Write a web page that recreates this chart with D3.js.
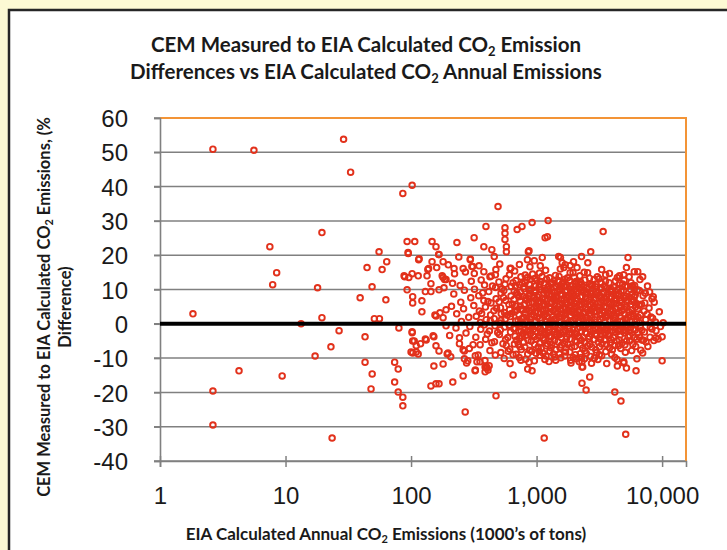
<!DOCTYPE html>
<html lang="en">
<head>
    <meta charset="UTF-8">
    <title>CEM vs EIA CO2 Emission Differences</title>
    <script src="https://d3js.org/d3.v7.min.js"></script>
    <style>
        body {
            margin: 0;
            background-color: #fcf9d4;
        }
        svg {
            display: block;
            font-family: Lato, "Open Sans", sans-serif;
        }
        .tick-label {
            font-size: 24px;
            fill: #1a1a1a;
        }
        .axis-title {
            font-size: 16.5px;
            font-weight: bold;
            fill: #1a1a1a;
        }
        .chart-title {
            font-size: 20.5px;
            font-weight: bold;
            fill: #1a1a1a;
        }
    </style>
</head>
<body>
    <svg id="chart" width="727" height="550"></svg>

    <script>
        // y axis (% difference) ticks and x axis (1000's of tons) ticks
        const yTicks = [-40, -30, -20, -10, 0, 10, 20, 30, 40, 50, 60];
        const xTicks = [1, 10, 100, 1000, 10000];

        // isolated points: [EIA annual CO2 (1000's of tons), % difference]
        const sparsePoints = [
            [1.83, 2.9], [2.64, 50.9], [5.6, 50.6], [29, 53.8], [33, 44.2], [102, 40.4], [86, 38],
            [19.5, 26.6], [7.5, 22.5], [8.5, 14.9], [7.9, 11.4], [18, 10.5], [19.5, 1.8], [13.3, 0],
            [26.7, -2], [23, -6.7], [93, 24], [107, 24], [55.6, 21], [64, 18.1], [44.6, 16.4],
            [58.8, 15.8], [48.9, 10.8], [39.3, 7.6], [63, 7], [51, 1.5], [56, 1.5], [43, -3.8], [80, -1.2],
            [94.7, 20.8], [115, 18.7], [147, 24], [158, 22.5], [167, 20.2], [147, 18.1], [180, 18.1],
            [136, 15.8], [160, 16.4], [88, 14], [96, 13.5], [102, 14.6], [114, 14], [134, 14], [177, 14],
            [190, 12.9], [144, 11.7], [93, 9.9], [130, 9.4], [144, 9.4], [167, 9.9], [183, 10.5],
            [103, 7.9], [103, 6.1], [122, 6.7], [122, 3.5], [158, 2.3], [170, 3.2], [180, 1.8], [190, 4.1],
            [190, -0.6], [102, -2.3], [103, -5], [110, -6.4], [130, -4.4], [150, -3.5], [152, -3.8],
            [2.64, -19.6], [2.64, -29.5], [4.26, -13.7], [9.4, -15.2], [17.2, -9.4], [23.5, -33.3],
            [43, -11.2], [49, -14.6], [48, -19], [74, -11.2], [79, -13.2], [74, -17], [79, -19.9],
            [86, -21.4], [86, -23.9], [100, -8.2], [103, -8.5], [110, -8.2], [114, -8.8], [158, -6.4],
            [167, -7.9], [152, -12.3], [180, -11.7], [144, -18.1], [158, -17.5], [167, -17.5], [194, -8.8],
            [1150, -33.3], [5130, -32.2], [493, 34.2], [1236, 30.1], [921, 29.5], [765, 28.4], [700, 27.5],
            [560, 28], [560, 26.4], [395, 28.4], [1220, 25.4], [1170, 25.1], [3390, 26.9], [318, 25.1],
            [560, 24.6], [232, 23.7], [380, 22.5], [575, 22.5], [575, 21], [440, 21.6], [460, 19.6],
            [870, 21.3], [2700, 21], [95, 20.5], [166, 20.2], [116, 19], [296, 18.7], [305, 16.7],
            [310, 16.7], [5350, 19.3], [1110, 19.3], [1550, 19.3], [1970, 18.1], [2280, 19.6], [2560, 17.8],
            [845, 18.7], [860, 21], [220, 16.1], [260, 16.1], [730, 17.3], [615, 16.1], [138, 16.1],
            [5200, 16.4], [6000, 15.2], [6400, 15.2], [7000, 13.7], [89, 13.7], [180, 13.5], [185, 12.9],
            [380, 15.2], [470, 14.3], [425, 13.7], [8300, 7.3], [5800, 11.1], [6000, 7.9], [155, 2.6],
            [102, -2.6], [106, -5], [260, -7.6], [266, -10.2], [243, -4.1], [215, -17], [260, -15.2],
            [325, -13.5], [335, -11.1], [403, -12.9], [475, -21], [650, -14.9], [270, -25.7],
            [2300, -17.3], [2480, -19.3], [2650, -15.5], [4200, -19.9], [4700, -22.5], [6200, -13.7],
            [10000, -10.8], [10200, 0.3], [8900, -4.1], [9300, -4.4], [10000, -3.8], [8300, -1.5],
            [2330, -12.6], [4400, -12.3], [4950, -11.4], [119, -5.8], [132, -4.7], [1070, 16.9],
            [1500, 19.6], [1600, 17.8], [1650, 16.4], [197, -8.5], [266, -7.9], [283, -10.8],
            [312, -6.1], [342, -9.1], [354, -11.1], [389, -12.6], [410, -13.5], [324, -13.7],
            [389, -14], [400, -12.6], [850, -13.2], [920, -13.7], [6900, -4.7], [7000, -8.5],
            [6300, -10.2], [4950, -11.1], [5200, -12.9], [2300, -11.1], [2300, -12.6], [3300, 15.8],
            [3550, 14.3], [4400, 13.5], [4950, 14.3], [1950, 14.9], [2100, 16.4], [2550, 14.9],
            [3050, 13.7], [1690, 17.2], [1850, 17.0]
        ];

        // the dense cloud between ~200 and ~10,000 thousand tons
        const clusterPoints = [
            [198, 17.2], [210, 5.1], [203, -3.4], [214, 11.8], [207, -9.6],
            [219, 8.7], [228, -1.2], [222, 14.6], [231, 2.9],
            [240, 19.5], [249, 6.3], [243, -5.8], [252, 0.7], [246, 11.2],
            [262, 4.4], [274, -2.7], [266, 9.8], [271, 15.1], [277, -11.4],
            [288, 1.9], [299, 7.6], [291, -7.2], [302, 12.4], [294, -0.8], [297, 18.9],
            [316, 5.3], [328, -3.9], [320, 10.1], [331, 2.2], [325, -9.3], [319, 14.7],
            [346, 8.2], [359, -1.6], [350, 3.7], [362, 12.8], [355, -6.1], [348, 16.9], [357, 0.4],
            [380, 6.8], [393, -4.5], [385, 11.3], [397, 1.2], [388, -10.7], [391, 4.9], [383, -0.3],
            [416, 9.4], [430, 2.6], [421, -2.1], [435, 13.9], [425, -7.8], [433, 6.1], [419, -12.2], [428, 0.9],
            [457, 3.8], [471, 10.6], [462, -5.2], [476, 7.3], [466, -0.6], [474, 15.8], [460, 1.5], [469, -9.1],
            [501, 12.2], [516, 4.7], [506, -3.1], [521, 8.9], [510, 0.2], [519, -8.4], [504, 6.4], [514, -1.8], [509, 17.4], [523, 2.9],
            [549, 9.7], [566, -4.6], [555, 3.3], [571, 13.1], [558, -0.9], [568, 6.8], [552, -10.1], [563, 1.4], [574, -6.3], [560, 11.5],
            [602, 5.6], [620, -2.4], [608, 14.3], [625, 8.1], [612, -7.4], [618, 2.1], [605, -0.4], [628, 10.9], [615, -11.6], [610, 4.2], [623, 16.2],
            [660, 7.1], [680, 0.8], [666, -5.9], [685, 12.6], [671, 3.5], [677, -1.3], [663, 9.6], [688, -8.9], [669, 15.4], [682, 5.2], [674, -3.6],
            [723, 2.7], [745, 9.3], [730, -4.2], [750, 13.7], [736, 0.1], [742, 6.6], [727, -9.8], [753, -2.2], [733, 11.4], [748, 4.3], [739, -6.7], [725, 7.9],
            [793, 10.2], [816, 3.1], [800, -1.7], [822, 7.5], [806, -6.8], [811, 14.2], [797, 1.9], [826, -3.3], [803, 5.8], [819, -10.3], [813, 12.1], [795, -0.2],
            [868, 6.2], [894, -2.9], [875, 11.6], [900, 1.3], [881, -7.7], [889, 8.8], [872, 3.9], [905, -5.1], [885, 16.6], [897, 4.6], [878, -0.9], [892, 12.9], [870, -11.2],
            [952, 2.4], [980, 9.1], [960, -3.8], [986, 5.3], [967, 13.2], [975, -0.5], [955, 7.7], [991, -8.6], [970, 0.9], [983, 11.0], [963, -6.0], [978, 3.4], [958, 18.4],
            [1043, 8.4], [1073, -1.4], [1050, 4.8], [1080, 12.3], [1058, -5.5], [1066, 1.7], [1047, 10.7], [1086, 6.5], [1062, -9.2], [1076, -2.6], [1054, 14.8], [1070, 3.0], [1090, -7.1],
            [1143, 5.9], [1176, -3.0], [1152, 11.9], [1184, 0.6], [1160, 7.1], [1190, -6.4], [1148, 2.5], [1171, 9.8], [1157, -0.7], [1180, 15.6], [1165, -10.4], [1195, 4.1], [1145, -4.7],
            [1252, 3.2], [1290, 10.4], [1262, -1.9], [1298, 6.0], [1270, 13.4], [1282, -5.3], [1258, 8.6], [1305, 1.0], [1276, -8.0], [1288, 4.4], [1265, -3.5], [1295, 11.8], [1255, -11.0], [1279, 0.3],
            [1372, 7.4], [1410, -0.8], [1382, 12.7], [1418, 3.6], [1390, -4.9], [1401, 9.2], [1377, 1.3], [1426, -7.5], [1395, 5.4], [1413, 14.1], [1386, -2.3], [1421, 8.0], [1398, -9.7],
            [1505, 2.0], [1545, 8.7], [1515, -3.2], [1555, 11.2], [1525, 5.7], [1535, -6.9], [1510, 13.8], [1562, 0.5], [1530, -1.1], [1550, 4.0], [1520, -8.8], [1540, 10.0], [1568, -4.0], [1545, 16.0],
            [1650, 6.9], [1695, -2.0], [1662, 10.9], [1705, 2.8], [1672, -5.8], [1685, 13.0], [1655, 0.0], [1715, 7.7], [1678, -9.4], [1700, 4.5], [1666, -0.6], [1690, 9.5], [1710, -7.0],
            [1808, 3.9], [1855, 10.1], [1820, -1.5], [1865, 6.2], [1832, 12.6], [1845, -4.4], [1815, 8.3], [1875, 0.8], [1838, -8.2], [1860, 2.3], [1826, 5.0], [1870, -10.6], [1850, 14.9], [1812, -3.0],
            [1985, 8.0], [2035, -0.3], [1998, 4.2], [2045, 11.7], [2010, -6.6], [2022, 1.6], [1990, 13.6], [2055, 6.7], [2015, -2.8], [2040, -9.0], [2004, 9.9], [2050, 3.0], [2028, -4.9],
            [2175, 1.1], [2230, 7.8], [2190, -4.1], [2240, 12.2], [2205, 3.4], [2215, -1.0], [2182, 10.3], [2250, -6.2], [2198, 5.6], [2225, -8.7], [2260, 2.4], [2210, 14.0], [2186, -11.1],
            [2385, 6.4], [2445, -2.5], [2400, 9.7], [2455, 1.8], [2415, -5.4], [2430, 12.8], [2392, 3.1], [2470, -0.4], [2422, -7.9], [2460, 7.2], [2408, -10.2], [2440, 4.8], [2395, 15.0],
            [2615, 2.9], [2680, 9.0], [2630, -3.7], [2695, 5.5], [2645, 11.6], [2660, -6.0], [2620, 0.4], [2710, 7.9], [2655, -1.6], [2690, -9.5], [2638, 13.3], [2700, 3.8],
            [2865, 7.0], [2935, -1.2], [2880, 3.6], [2950, 10.8], [2895, -4.6], [2915, 1.2], [2872, 12.9], [2960, -7.6], [2905, 5.0], [2940, -2.9], [2888, -10.0], [2925, 8.6],
            [3140, 4.0], [3215, 10.5], [3160, -2.2], [3230, 6.3], [3175, -6.7], [3195, 1.4], [3150, 13.1], [3250, -0.6], [3185, 8.2], [3240, -4.4], [3165, -9.0], [3205, 2.7],
            [3445, 9.2], [3525, -1.8], [3460, 5.1], [3545, 12.4], [3480, -4.8], [3500, 0.6], [3455, 7.6], [3560, -8.1], [3490, 3.3], [3535, -2.6], [3470, 11.0],
            [3775, 3.0], [3865, 9.6], [3795, -3.4], [3885, 5.9], [3815, -7.0], [3840, 1.0], [3780, 12.0], [3900, -0.9], [3825, 7.4], [3870, -5.6], [3805, 14.7],
            [4140, 6.0], [4235, -2.3], [4160, 10.6], [4255, 2.1], [4185, -6.3], [4210, 4.6], [4150, -0.1], [4270, 8.5], [4200, -9.8], [4245, 12.5], [4170, 1.7],
            [4535, 8.8], [4640, 0.7], [4560, -4.7], [4665, 5.0], [4590, 11.8], [4615, -1.4], [4545, 3.2], [4680, -7.2], [4600, 6.6], [4650, -3.2], [4575, 14.0],
            [4970, 4.3], [5085, 10.9], [5000, -2.6], [5110, 1.5], [5030, 7.5], [5055, -6.1], [4985, 12.7], [5130, -0.3], [5040, 2.8], [5095, -8.3],
            [5450, 7.8], [5575, -1.1], [5480, 3.4], [5600, 10.0], [5515, -5.0], [5540, 0.9], [5465, 13.7], [5620, 5.6], [5530, -3.5],
            [5975, 2.2], [6110, 8.4], [6010, -4.0], [6140, 4.9], [6040, 11.2], [6080, -1.9], [5990, 6.8], [6160, -6.6],
            [6550, 5.4], [6700, -0.7], [6590, 9.7], [6730, 2.6], [6620, -3.9], [6660, 12.9], [6760, -7.7],
            [7180, 3.7], [7350, 8.9], [7230, -2.4], [7400, 1.2], [7280, 6.1], [7450, -5.3],
            [7870, 4.6], [8050, -1.0], [7950, 9.3], [8150, 2.0], [8000, -3.9],
            [8650, 6.3], [8850, 0.5], [8950, -2.0], [9500, 3.5], [9700, -0.8]
        ];

        // extra points filling the solid core of the cloud
        const corePoints = [
            [700, 4.0], [760, 1.5], [830, 6.9], [910, 2.0], [1000, 5.0], [1110, 7.4], [1210, 2.2], [1330, 6.2],
            [1460, 3.0], [1600, 6.0], [1760, 1.2], [1920, 6.8], [2100, 2.0], [2300, 5.7], [2520, 0.9], [2760, 4.4],
            [3030, 2.0], [3330, 6.9], [3650, 2.5], [4000, 5.5], [4400, 0.0], [4800, 3.9], [5250, 1.1], [5750, 4.0], [6300, 0.8],
            [720, -2.0], [790, -5.4], [860, -0.6], [940, -3.4], [1020, -0.9], [1120, -4.2], [1230, -2.7], [1350, -0.2],
            [1480, -5.2], [1620, -2.4], [1780, -6.0], [1950, -1.7], [2140, -3.6], [2350, -0.6], [2580, -4.3], [2830, -2.0],
            [3100, -5.3], [3400, -1.0], [3720, -2.9], [4100, -4.0], [4500, -6.4], [4900, -1.8], [5350, -3.8], [5850, -6.0], [6400, -2.6],
            [680, 11.0], [780, 8.0], [880, 9.6], [990, 7.0], [1090, 9.9], [1200, 13.0], [1320, 8.2], [1440, 10.8],
            [1580, 7.0], [1730, 11.4], [1890, 9.0], [2060, 12.3], [2260, 9.8], [2480, 8.8], [2720, 11.3], [2980, 9.4],
            [3270, 12.0], [3580, 7.9], [3930, 10.1], [4300, 7.1], [4720, 9.5], [5180, 8.0], [5650, 12.0],
            [650, -9.0], [750, -10.6], [850, -8.8], [960, -10.8], [1050, -8.0], [1190, -9.4], [1300, -7.0], [1420, -10.6],
            [1560, -9.9], [1700, -8.2], [1880, -11.4], [2070, -10.2], [2270, -9.8], [2490, -8.6], [2740, -11.5], [3000, -8.4],
            [3300, -9.3], [3620, -11.6], [3960, -8.9], [4380, -10.4],
            [365, 3.0], [372, 9.0], [405, -3.0], [410, 6.5], [440, -5.5], [445, 11.0], [480, 4.5], [490, -2.5],
            [530, 10.2], [540, -5.8], [585, 2.5], [595, -8.0], [640, 5.8], [650, 12.0], [690, -4.8], [705, 8.5],
            [712, 1.0], [755, -7.5], [770, 11.8], [775, 4.2], [785, -2.8], [840, 1.0], [845, 13.5], [855, -4.8],
            [865, 8.1], [915, -8.0], [925, 6.2], [930, 14.5], [945, -1.6], [995, -4.6], [1005, 12.6], [1012, 1.9],
            [1030, -6.8], [1035, 6.0], [1100, -2.0], [1105, 13.8], [1125, 3.8], [1130, -8.6], [1215, 8.9], [1220, -5.8],
            [1240, 0.0], [1245, 11.0], [1310, -3.8], [1340, 12.0], [1360, 3.9], [1365, -8.8], [1435, 1.6], [1450, -3.0],
            [1470, 9.4], [1490, 12.6], [1585, -6.2], [1595, 2.8], [1610, 11.9], [1630, -0.3], [1720, 4.8], [1740, -3.8],
            [1770, 13.4], [1790, 8.2], [1900, -6.8], [1910, 3.4], [1935, 11.2], [1960, -9.8], [2080, 5.0], [2090, -5.2],
            [2110, 9.6], [2120, -1.4], [2280, -2.2], [2290, 11.5], [2320, 1.5], [2330, -7.1], [2500, -2.8], [2510, 10.5],
            [2540, 4.1], [2560, -6.4], [2740, 0.6], [2750, -6.8], [2780, 11.0], [2790, 6.2], [3010, -3.4], [3050, 9.0],
            [3070, 4.9], [3080, -10.4], [3280, -1.8], [3290, 7.6], [3320, -5.9], [3350, 3.9], [3590, 2.0], [3610, -6.0],
            [3630, 10.4], [3680, -0.4], [3950, -2.2], [3980, 7.8], [4020, -7.6], [4050, 3.9], [4330, 4.3], [4350, -5.0],
            [4420, 10.0], [4460, -2.0], [4760, 6.1], [4780, -5.6], [4840, 11.6], [4880, 0.8], [5200, -5.0], [5230, 5.0],
            [5290, 11.0], [5300, -1.2], [5700, 2.1], [5720, -7.8], [5780, 8.7], [5900, -1.5], [6250, 5.9], [6280, -4.5],
            [6350, 9.9], [6450, 1.9], [6850, 5.7], [6900, -1.9], [7050, 8.2], [7100, -4.8], [7600, 2.8], [7700, -6.6],
            [7650, 11.0], [8400, 1.6], [8500, 7.9], [8600, -4.9],
            [520, 1.0], [545, 7.7], [590, -4.0], [630, 3.0], [660, -1.5], [695, 9.0], [715, -6.0], [740, 5.2],
            [765, -3.6], [790, 10.8], [810, 0.5], [835, 4.0], [850, -2.0], [875, 7.2], [895, 10.0], [920, -1.0],
            [950, 4.5], [965, 9.8], [985, -2.2], [1010, 7.9], [1025, 3.3], [1055, 11.5], [1070, -3.8], [1095, 1.0],
            [1115, 5.2], [1140, 9.0], [1155, -2.4], [1185, 3.0], [1205, 6.6], [1225, 10.1], [1250, -0.9], [1270, 4.9],
            [1300, 8.4], [1315, -6.0], [1345, 2.0], [1370, 10.5], [1390, 6.8], [1405, -3.0], [1430, 4.4], [1455, 7.6],
            [1475, -1.8], [1500, 5.0], [1520, 9.6], [1555, 2.0], [1575, -2.8], [1600, 8.5], [1625, 4.4], [1645, 12.2],
            [1675, 1.6], [1700, 6.0], [1725, -4.4], [1750, 9.7], [1775, 3.6], [1800, -0.6], [1830, 7.0], [1860, 11.0],
            [1885, 4.0], [1915, -2.6], [1945, 8.8], [1970, 1.0], [2000, 6.1], [2030, 10.8], [2065, -3.0], [2095, 7.4],
            [2130, 3.8], [2160, 11.8], [2195, 0.4], [2235, 5.0], [2270, -4.8], [2310, 8.0], [2345, 3.0], [2380, 10.6],
            [2420, -1.2], [2460, 5.9], [2500, 2.0], [2545, 9.2], [2590, -0.8], [2630, 6.9], [2675, 2.6], [2720, -3.0],
            [2770, 8.7], [2820, 4.6], [2870, -0.2], [2920, 6.0], [2970, 11.6], [3020, 3.6], [3080, -1.4], [3130, 8.0],
            [3190, 4.9], [3250, -3.2], [3310, 10.2], [3370, 1.8], [3430, 6.4], [3500, -2.9], [3570, 4.6], [3640, 8.6],
            [3700, -1.6], [3780, 6.2], [3850, 3.7], [3920, -4.6], [4000, 9.4], [4080, 1.2], [4160, 6.9], [4250, -1.0],
            [4340, 3.1], [4430, 8.2], [4520, -2.2], [4620, 2.3], [4720, 6.9], [4830, -0.6], [4930, 9.7], [5050, 4.9],
            [5170, -2.0], [5300, 7.0], [5420, 2.4], [5560, -1.8], [5700, 6.6], [5850, 2.9], [6000, 10.2], [6200, -0.2],
            [6400, 4.4], [6600, 0.4]
        ];

        const allPoints = sparsePoints.concat(clusterPoints, corePoints);

        const plot = { left: 160, right: 686, top: 118, bottom: 461 };

        const svg = d3.select("#chart");

        // white chart panel with dark frame
        svg.append("rect")
            .attr("x", 9)
            .attr("y", 10)
            .attr("width", 740)
            .attr("height", 560)
            .attr("fill", "#ffffff")
            .attr("stroke", "#262626")
            .attr("stroke-width", 2.5);

        const x = d3.scaleLog()
            .domain([1, 15500])
            .range([plot.left, plot.right]);

        const y = d3.scaleLinear()
            .domain([-40, 60])
            .range([plot.bottom, plot.top]);

        // horizontal gridlines
        svg.append("g")
            .selectAll("line")
            .data(yTicks)
            .enter().append("line")
            .attr("x1", plot.left - 6)
            .attr("x2", plot.right)
            .attr("y1", d => y(d))
            .attr("y2", d => y(d))
            .attr("stroke", "#808080")
            .attr("stroke-width", 1.5);

        // orange plot-area border (top & right)
        svg.append("path")
            .attr("d", `M${plot.left},${plot.top}H${plot.right}V${plot.bottom}`)
            .attr("fill", "none")
            .attr("stroke", "#f39436")
            .attr("stroke-width", 2);

        // y axis
        const yAxis = svg.append("g")
            .attr("transform", `translate(${plot.left},0)`)
            .call(d3.axisLeft(y).tickValues(yTicks).tickSize(6).tickPadding(26));
        yAxis.select(".domain").attr("stroke", "#808080").attr("stroke-width", 1.6);
        yAxis.selectAll(".tick line").attr("stroke", "#808080").attr("stroke-width", 1.5);
        yAxis.selectAll(".tick text")
            .attr("class", "tick-label")
            .attr("font-size", null)
            .attr("font-family", null)
            .attr("dy", "0.36em")
            .text(d => d < 0 ? "-" + Math.abs(d) : d);

        // x axis
        const xAxis = svg.append("g")
            .attr("transform", `translate(0,${plot.bottom})`)
            .call(d3.axisBottom(x).tickValues(xTicks).tickFormat(d3.format(",")).tickSize(6).tickPadding(20));
        xAxis.select(".domain").attr("stroke", "#808080").attr("stroke-width", 1.6);
        xAxis.selectAll(".tick line")
            .attr("y1", -5)
            .attr("stroke", "#808080")
            .attr("stroke-width", 1.5);
        xAxis.selectAll(".tick text")
            .attr("class", "tick-label")
            .attr("font-size", null)
            .attr("font-family", null);

        // scatter markers
        svg.append("g")
            .selectAll("circle")
            .data(allPoints)
            .enter().append("circle")
            .attr("cx", d => x(d[0]))
            .attr("cy", d => y(d[1]))
            .attr("r", 2.8)
            .attr("fill", "none")
            .attr("stroke", "#e2311b")
            .attr("stroke-width", 1.9);

        // zero reference line
        svg.append("line")
            .attr("x1", plot.left)
            .attr("x2", plot.right)
            .attr("y1", y(0))
            .attr("y2", y(0))
            .attr("stroke", "#000")
            .attr("stroke-width", 4);

        // title
        const title = svg.append("text")
            .attr("class", "chart-title")
            .attr("text-anchor", "middle");
        const t1 = title.append("tspan").attr("x", 366).attr("y", 52);
        t1.append("tspan").text("CEM Measured to EIA Calculated CO");
        t1.append("tspan").attr("font-size", "13px").attr("dy", 4).text("2");
        t1.append("tspan").attr("dy", -4).text(" Emission");
        const t2 = title.append("tspan").attr("x", 366).attr("y", 79);
        t2.append("tspan").text("Differences vs EIA Calculated CO");
        t2.append("tspan").attr("font-size", "13px").attr("dy", 4).text("2");
        t2.append("tspan").attr("dy", -4).text(" Annual Emissions");

        // x axis title
        const xt = svg.append("text")
            .attr("class", "axis-title")
            .attr("x", 386)
            .attr("y", 540)
            .attr("text-anchor", "middle")
            .style("font-size", "17px");
        xt.append("tspan").text("EIA Calculated Annual CO");
        xt.append("tspan").attr("font-size", "11px").attr("dy", 3).text("2");
        xt.append("tspan").attr("dy", -3).text(" Emissions (1000\u2019s of tons)");

        // y axis title (two lines, rotated)
        const yt = svg.append("text")
            .attr("class", "axis-title")
            .attr("transform", "translate(0,307) rotate(-90)")
            .attr("text-anchor", "middle");
        const y1 = yt.append("tspan").attr("x", 0).attr("y", 50);
        y1.append("tspan").text("CEM Measured to EIA Calculated CO");
        y1.append("tspan").attr("font-size", "11px").attr("dy", 3).text("2");
        y1.append("tspan").attr("dy", -3).text(" Emissions, (%");
        yt.append("tspan").attr("x", 0).attr("y", 71).text("Difference)");
    </script>
</body>
</html>
